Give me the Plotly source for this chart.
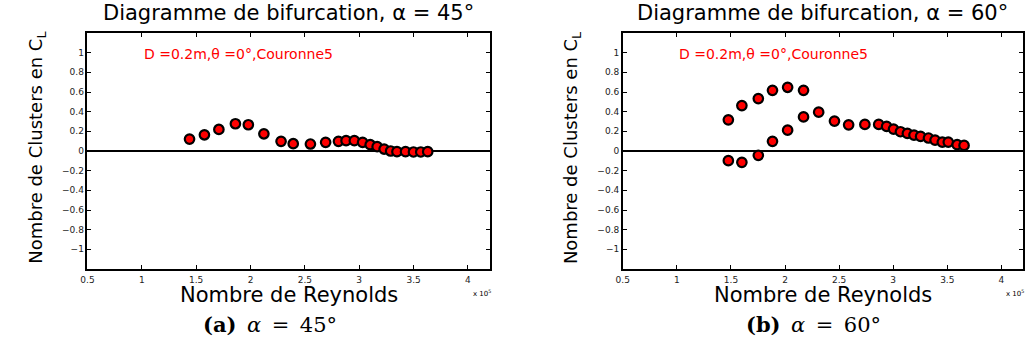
import plotly.graph_objects as go

# Panel (a): alpha = 45 deg
re_a = [1.439, 1.576, 1.709, 1.861, 1.980, 2.123, 2.281, 2.393, 2.551, 2.691, 2.809, 2.879,
        2.955, 3.031, 3.101, 3.165, 3.229, 3.289, 3.347, 3.426, 3.499, 3.566, 3.630]
cl_a = [0.121, 0.165, 0.219, 0.277, 0.267, 0.175, 0.098, 0.074, 0.071, 0.088, 0.098, 0.105,
        0.105, 0.088, 0.064, 0.044, 0.020, 0.000, -0.007, -0.007, -0.010, -0.010, -0.007]

# Panel (b): alpha = 60 deg
re_b = [1.476, 1.601, 1.753, 1.884, 2.024, 2.171,
        1.476, 1.601, 1.753, 1.884, 2.024, 2.171,
        2.311, 2.457, 2.588, 2.738, 2.866, 2.939, 3.003, 3.067, 3.131, 3.192, 3.253,
        3.326, 3.387, 3.454, 3.509, 3.591, 3.655]
cl_b = [0.317, 0.462, 0.533, 0.617, 0.648, 0.617,
        -0.098, -0.115, -0.044, 0.098, 0.212, 0.347,
        0.395, 0.304, 0.266, 0.270, 0.270, 0.250, 0.223, 0.196, 0.179, 0.162, 0.148,
        0.132, 0.111, 0.091, 0.091, 0.064, 0.057]

x_ticks = [0.5, 1, 1.5, 2, 2.5, 3, 3.5, 4]
x_ticktext = ["0.5", "1", "1.5", "2", "2.5", "3", "3.5", "4"]
y_ticks = [-1, -0.8, -0.6, -0.4, -0.2, 0, 0.2, 0.4, 0.6, 0.8, 1]
y_ticktext = ["\u22121", "\u22120.8", "\u22120.6", "\u22120.4", "\u22120.2", "0",
              "0.2", "0.4", "0.6", "0.8", "1"]

titles = ["Diagramme de bifurcation, \u03b1 = 45\u00b0", "Diagramme de bifurcation, \u03b1 = 60\u00b0"]
captions = ["<b>(a)</b>\u2002<i>\u03b1</i>\u2002=\u200245\u00b0",
            "<b>(b)</b>\u2002<i>\u03b1</i>\u2002=\u200260\u00b0"]
note = "D =0.2m,\u03b8 =0\u00b0,Couronne5"

SANS = "DejaVu Sans, Liberation Sans, Arial"
W, H = 1026, 355
doms = [(81 / W, 486 / W), (620 / W, 1023 / W)]
ydom = (1 - 269 / H, 1 - 33 / H)

fig = go.Figure()
marker = dict(size=9.5, color="#ff0000", line=dict(color="black", width=2.2))
fig.add_trace(go.Scatter(x=re_a, y=cl_a, mode="markers", marker=marker,
                         xaxis="x", yaxis="y", showlegend=False))
fig.add_trace(go.Scatter(x=re_b, y=cl_b, mode="markers", marker=marker,
                         xaxis="x2", yaxis="y2", showlegend=False))

axis_common = dict(showgrid=False, showline=True, linecolor="black", linewidth=1.5,
                   mirror="ticks", ticks="inside", ticklen=4, tickcolor="black",
                   tickfont=dict(family=SANS, size=9, color="#222"))

layout = dict(width=W, height=H, margin=dict(l=0, r=0, t=0, b=0),
              paper_bgcolor="white", plot_bgcolor="white", showlegend=False)
for i, (d, ax, ay) in enumerate(zip(doms, ["xaxis", "xaxis2"], ["yaxis", "yaxis2"])):
    xa = dict(axis_common, domain=list(d), range=[0.5, 4.2], tickvals=x_ticks,
              ticktext=x_ticktext, zeroline=False, ticklabelstandoff=1)
    ya = dict(axis_common, domain=list(ydom), range=[-1.2, 1.2], tickvals=y_ticks,
              ticktext=y_ticktext, zeroline=True, zerolinecolor="black", zerolinewidth=2)
    if i == 1:
        xa["anchor"] = "y2"
        ya["anchor"] = "x2"
    layout[ax] = xa
    layout[ay] = ya

annotations = []
for i, d in enumerate(doms):
    cx = (d[0] + d[1]) / 2
    xref = "x" if i == 0 else "x2"
    yref = "y" if i == 0 else "y2"
    annotations.append(dict(text=titles[i], x=cx, y=1 - 13 / H, xref="paper", yref="paper",
                            showarrow=False, xanchor="center", yanchor="middle",
                            font=dict(family=SANS, size=21, color="black")))
    annotations.append(dict(text="Nombre de Reynolds", x=cx, y=1 - 295 / H, xref="paper",
                            yref="paper", showarrow=False, xanchor="center", yanchor="middle",
                            font=dict(family=SANS, size=21, color="black")))
    annotations.append(dict(text="x 10<sup>5</sup>", x=d[1] - 8 / W, y=1 - 293 / H,
                            xref="paper", yref="paper", showarrow=False,
                            xanchor="center", yanchor="middle",
                            font=dict(family=SANS, size=7, color="black")))
    annotations.append(dict(text="Nombre de Clusters en C<sub>L</sub>", x=d[0] - 51 / W,
                            y=1 - 148 / H, xref="paper", yref="paper",
                            textangle=-90, showarrow=False, xanchor="center", yanchor="middle",
                            font=dict(family=SANS, size=18, color="black")))
    annotations.append(dict(text=note, x=1.0, y=0.99, xref=xref, yref=yref, showarrow=False,
                            xanchor="left", yanchor="middle",
                            font=dict(family=SANS, size=14, color="#ff0000")))
    annotations.append(dict(text=captions[i], x=[265, 812][i] / W, y=1 - 324 / H,
                            xref="paper", yref="paper", showarrow=False,
                            xanchor="center", yanchor="middle",
                            font=dict(family="DejaVu Serif, Liberation Serif", size=21,
                                      color="black")))
layout["annotations"] = annotations
fig.update_layout(**layout)
fig.write_html("out.html", config={"displayModeBar": False},
               post_script="document.body.style.margin='0';document.body.style.overflow='hidden';")
